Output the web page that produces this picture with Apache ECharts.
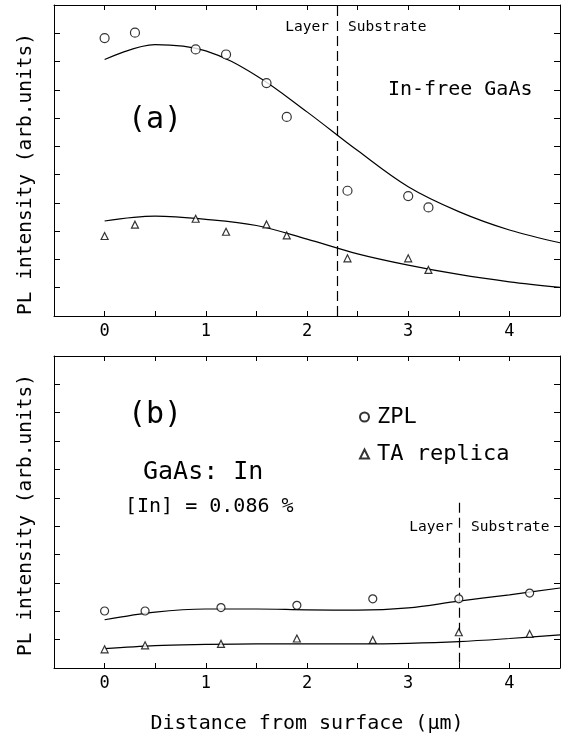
<!DOCTYPE html>
<html>
<head>
<meta charset="utf-8">
<script src="https://cdn.jsdelivr.net/npm/echarts@6/dist/echarts.min.js"></script>
<style>
  html, body { margin: 0; padding: 0; background: #fff; }
  #chart { width: 563px; height: 740px; }
</style>
</head>
<body>
<div id="chart"></div>
<script>
// panel (a): In-free GaAs
var distA = [0, 0.3, 0.9, 1.2, 1.6, 1.8, 2.4, 3.0, 3.2]
var zplA = [9.83, 10.02, 9.43, 9.25, 8.24, 7.04, 4.43, 4.24, 3.84]
var taA = [2.83, 3.23, 3.44, 2.98, 3.24, 2.85, 2.04, 2.04, 1.63]
var fitXA = [0, 0.5, 1.0, 1.5, 2.0, 2.5, 3.0, 3.5, 4.0, 4.5]
var zplFitA = [9.07, 9.6, 9.38, 8.5, 7.22, 5.85, 4.57, 3.69, 3.04, 2.59]
var taFitA = [3.36, 3.53, 3.42, 3.2, 2.72, 2.2, 1.80, 1.47, 1.21, 1.01]
var boundaryA = 2.3

// panel (b): GaAs:In
var distB = [0, 0.4, 1.15, 1.9, 2.65, 3.5, 4.2]
var zplB = [2.01, 2.01, 2.13, 2.21, 2.44, 2.44, 2.64]
var taB = [0.66, 0.80, 0.85, 1.04, 0.99, 1.26, 1.20]
var fitXB = [0, 0.5, 1.0, 1.5, 2.0, 2.5, 3.0, 3.5, 4.0, 4.5]
var zplFitB = [1.70, 1.97, 2.08, 2.08, 2.05, 2.04, 2.12, 2.36, 2.58, 2.82]
var taFitB = [0.68, 0.79, 0.83, 0.85, 0.85, 0.85, 0.87, 0.93, 1.04, 1.17]
var boundaryB = 3.5

var FONT = 'DejaVu Sans Mono'

function pairs(xs, ys) {
  return xs.map(function (x, i) { return [x, ys[i]] })
}

function xAxisDef(grid, pos, labels) {
  return {
    type: 'value', gridIndex: grid, position: pos,
    min: -0.5, max: 4.5, interval: 0.5,
    axisLine: { show: true, onZero: false, lineStyle: { color: '#000', width: 1 } },
    axisTick: { show: true, inside: true, length: 5, lineStyle: { color: '#000' } },
    axisLabel: {
      show: labels, color: '#000', fontFamily: FONT, fontSize: 17, margin: 7,
      formatter: function (v) { return Math.abs(v - Math.round(v)) < 1e-6 ? String(Math.round(v)) : '' }
    },
    splitLine: { show: false }
  }
}

function yAxisDef(grid, pos) {
  return {
    type: 'value', gridIndex: grid, position: pos,
    min: 0, max: 11, interval: 1,
    axisLine: { show: true, onZero: false, lineStyle: { color: '#000', width: 1 } },
    axisTick: { show: true, inside: true, length: 6, lineStyle: { color: '#000' } },
    axisLabel: { show: false },
    splitLine: { show: false }
  }
}

function points(name, sym, size, xa, ya, data) {
  return {
    name: name, type: 'scatter', symbol: sym, symbolSize: size,
    xAxisIndex: xa, yAxisIndex: ya, data: data,
    itemStyle: { color: '#fff', borderColor: '#000', borderWidth: 1.2 },
    z: 5
  }
}

function fit(xa, ya, data, mark) {
  var s = {
    type: 'line', smooth: 0.35, symbol: 'none',
    xAxisIndex: xa, yAxisIndex: ya, data: data,
    lineStyle: { color: '#000', width: 1.2 }
  }
  if (mark) s.markLine = mark
  return s
}

var dashStyle = { color: '#000', width: 1.2, type: [10, 5] }

var chart = echarts.init(document.getElementById('chart'), null, { renderer: 'canvas' })
chart.setOption({
  backgroundColor: '#fff',
  animation: false,
  grid: [
    { left: 54, top: 5, width: 509, height: 311 },
    { left: 54, top: 356, width: 509, height: 312 }
  ],
  xAxis: [
    xAxisDef(0, 'bottom', true),
    xAxisDef(0, 'top', false),
    Object.assign(xAxisDef(1, 'bottom', true), {
      name: 'Distance from surface (\u03bcm)', nameLocation: 'middle', nameGap: 46,
      nameTextStyle: { color: '#000', fontFamily: FONT, fontSize: 20 }
    }),
    xAxisDef(1, 'top', false)
  ],
  yAxis: [
    yAxisDef(0, 'left'),
    yAxisDef(0, 'right'),
    yAxisDef(1, 'left'),
    yAxisDef(1, 'right')
  ],
  legend: {
    data: ['ZPL', 'TA replica'],
    orient: 'vertical', left: 354, top: 401, itemGap: 15,
    itemWidth: 9, itemHeight: 9,
    textStyle: { color: '#000', fontFamily: FONT, fontSize: 22, padding: [0, 0, 0, 3] },
    selectedMode: false
  },
  series: [
    fit(0, 0, pairs(fitXA, zplFitA), {
      symbol: 'none', silent: true, label: { show: false }, lineStyle: dashStyle,
      data: [{ xAxis: boundaryA }]
    }),
    fit(0, 0, pairs(fitXA, taFitA)),
    points('ZPL', 'circle', 9, 0, 0, pairs(distA, zplA)),
    points('TA replica', 'triangle', 7, 0, 0, pairs(distA, taA)),
    fit(2, 2, pairs(fitXB, zplFitB), {
      symbol: 'none', silent: true, label: { show: false }, lineStyle: dashStyle,
      data: [[{ coord: [boundaryB, 5.83] }, { coord: [boundaryB, 0] }]]
    }),
    fit(2, 2, pairs(fitXB, taFitB)),
    points('ZPL', 'circle', 8, 2, 2, pairs(distB, zplB)),
    points('TA replica', 'triangle', 7, 2, 2, pairs(distB, taB))
  ],
  graphic: [
    { type: 'text', x: 26, y: 174, rotation: Math.PI / 2,
      style: { text: 'PL intensity (arb.units)', font: '19.5px "' + FONT + '"', fill: '#000', textAlign: 'center', textVerticalAlign: 'middle' } },
    { type: 'text', x: 26, y: 515, rotation: Math.PI / 2,
      style: { text: 'PL intensity (arb.units)', font: '19.5px "' + FONT + '"', fill: '#000', textAlign: 'center', textVerticalAlign: 'middle' } },
    { type: 'text', x: 128, y: 120,
      style: { text: '(a)', font: '30px "' + FONT + '"', fill: '#000', textAlign: 'left', textVerticalAlign: 'middle' } },
    { type: 'text', x: 388, y: 90,
      style: { text: 'In-free GaAs', font: '20px "' + FONT + '"', fill: '#000', textAlign: 'left', textVerticalAlign: 'middle' } },
    { type: 'text', x: 329, y: 27,
      style: { text: 'Layer', font: '14.5px "' + FONT + '"', fill: '#000', textAlign: 'right', textVerticalAlign: 'middle' } },
    { type: 'text', x: 348, y: 27,
      style: { text: 'Substrate', font: '14.5px "' + FONT + '"', fill: '#000', textAlign: 'left', textVerticalAlign: 'middle' } },
    { type: 'text', x: 128, y: 415,
      style: { text: '(b)', font: '30px "' + FONT + '"', fill: '#000', textAlign: 'left', textVerticalAlign: 'middle' } },
    { type: 'text', x: 143, y: 472,
      style: { text: 'GaAs: In', font: '25px "' + FONT + '"', fill: '#000', textAlign: 'left', textVerticalAlign: 'middle' } },
    { type: 'text', x: 125, y: 507,
      style: { text: '[In] = 0.086 %', font: '20px "' + FONT + '"', fill: '#000', textAlign: 'left', textVerticalAlign: 'middle' } },
    { type: 'text', x: 453, y: 527,
      style: { text: 'Layer', font: '14.5px "' + FONT + '"', fill: '#000', textAlign: 'right', textVerticalAlign: 'middle' } },
    { type: 'text', x: 471, y: 527,
      style: { text: 'Substrate', font: '14.5px "' + FONT + '"', fill: '#000', textAlign: 'left', textVerticalAlign: 'middle' } }
  ]
})
</script>
</body>
</html>
